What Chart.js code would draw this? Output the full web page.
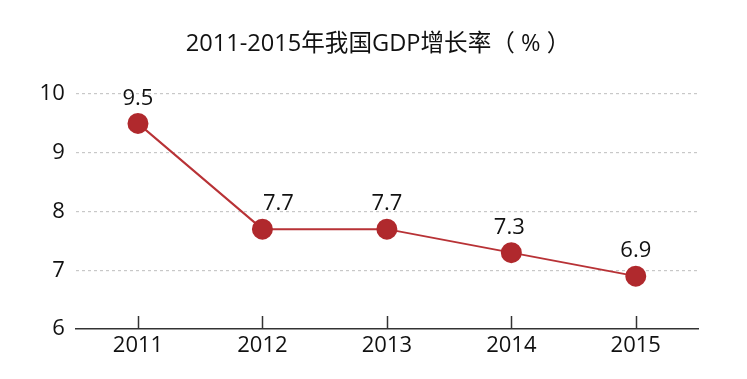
<!DOCTYPE html>
<html>
<head>
<meta charset="utf-8">
<script src="https://cdn.jsdelivr.net/npm/chart.js@4"></script>
<style>
html,body{margin:0;padding:0;background:#fff;}
#wrap{width:747px;height:379px;}
</style>
</head>
<body>
<div id="wrap"><canvas id="c" width="747" height="379"></canvas></div>
<script>
const categories = ['2011', '2012', '2013', '2014', '2015'];
const gdpGrowth = [9.5, 7.7, 7.7, 7.3, 6.9];
const yTicks = [6, 7, 8, 9, 10];
const titleText = '2011-2015年我国GDP增长率（ % ）';

const FONT = '"Open Sans", "Noto Sans CJK SC", sans-serif';
const labelDx = [0, 16, 0, -2, 0];

const chartTitle = {
  id: 'chartTitle',
  afterDraw(chart) {
    const ctx = chart.ctx;
    ctx.save();
    ctx.font = '23.6px ' + FONT;
    ctx.fillStyle = '#111';
    ctx.textAlign = 'center';
    ctx.textBaseline = 'middle';
    ctx.fillText(titleText, 378, 44);
    ctx.restore();
  }
};

const valueLabels = {
  id: 'valueLabels',
  afterDatasetsDraw(chart) {
    const ctx = chart.ctx;
    const meta = chart.getDatasetMeta(0);
    ctx.save();
    ctx.font = '22px ' + FONT;
    ctx.fillStyle = '#111';
    ctx.textAlign = 'center';
    ctx.textBaseline = 'middle';
    meta.data.forEach((pt, i) => {
      ctx.fillText(String(gdpGrowth[i]), pt.x + labelDx[i], pt.y - 25);
    });
    ctx.restore();
  }
};

const innerTicks = {
  id: 'innerTicks',
  afterDraw(chart) {
    const ctx = chart.ctx;
    const xs = chart.scales.x;
    const bottom = chart.chartArea.bottom;
    ctx.save();
    ctx.strokeStyle = '#333';
    ctx.lineWidth = 1.5;
    categories.forEach((c, i) => {
      const x = Math.round(xs.getPixelForValue(i)) + 0.5;
      ctx.beginPath();
      ctx.moveTo(x, bottom);
      ctx.lineTo(x, bottom - 13);
      ctx.stroke();
    });
    ctx.restore();
  }
};

new Chart(document.getElementById('c'), {
  type: 'line',
  data: {
    labels: categories,
    datasets: [{
      data: gdpGrowth,
      borderColor: '#b83236',
      borderWidth: 2,
      pointBackgroundColor: '#b0292d',
      pointBorderColor: '#b0292d',
      pointRadius: 9.5,
      pointHoverRadius: 9.5,
      tension: 0,
      clip: false
    }]
  },
  options: {
    responsive: false,
    animation: false,
    layout: { padding: { left: 0, right: 49, top: 94, bottom: 0 } },
    plugins: {
      legend: { display: false },
      tooltip: { enabled: false },
      title: { display: false }
    },
    scales: {
      x: {
        offset: true,
        grid: { display: false, drawTicks: false },
        border: { display: true, color: '#333', width: 1.5 },
        ticks: {
          color: '#111',
          font: { family: FONT, size: 22 },
          padding: 4,
          maxRotation: 0
        },
        afterFit(scale) { scale.height = 50; }
      },
      y: {
        min: 6,
        max: 10,
        afterBuildTicks(scale) { scale.ticks = yTicks.map(v => ({ value: v })); },
        grid: {
          color: ctx => (ctx.tick && ctx.tick.value === 6) ? 'rgba(0,0,0,0)' : '#c8c8c8',
          lineWidth: 1.2,
          drawTicks: false
        },
        border: { display: false, dash: [3, 3] },
        ticks: {
          color: '#111',
          font: { family: FONT, size: 22 },
          padding: 11
        },
        afterFit(scale) { scale.width = 75.75; }
      }
    }
  },
  plugins: [valueLabels, innerTicks, chartTitle]
});
</script>
</body>
</html>
